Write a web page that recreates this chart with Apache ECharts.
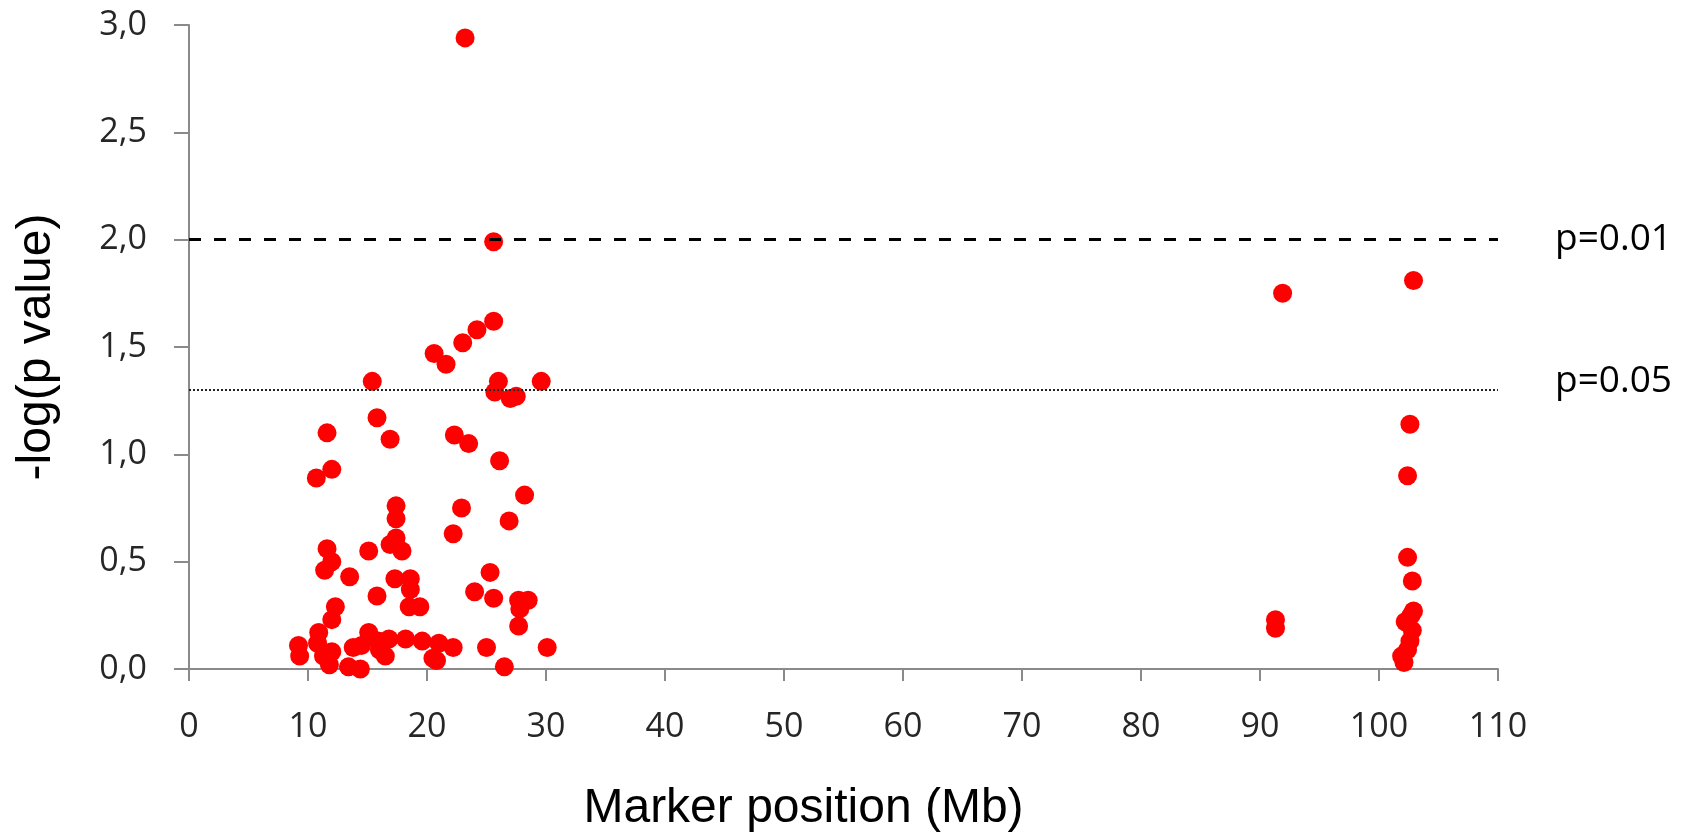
<!DOCTYPE html>
<html>
<head>
<meta charset="utf-8">
<script src="https://cdn.jsdelivr.net/npm/echarts@6/dist/echarts.min.js"></script>
<style>
html,body{margin:0;padding:0;background:#fff;}
#chart{width:1686px;height:838px;}
</style>
</head>
<body>
<div id="chart"></div>
<script>
// Marker positions (Mb)
const markerPos = [
  23.2, 25.6, 25.6, 24.2, 23.0, 20.6, 21.6, 15.4, 26.0, 29.6,
  25.7, 27.0, 27.5, 15.8, 11.6, 16.9, 22.3, 23.5, 26.1, 12.0,
  10.7, 28.2, 17.4, 22.9, 17.4, 26.9, 22.2, 17.4, 16.9, 17.9,
  15.1, 11.6, 12.0, 11.4, 13.5, 17.3, 18.6, 18.6, 25.3, 24.0,
  25.6, 15.8, 27.7, 28.5, 27.8, 18.5, 19.4, 12.3, 12.0, 27.7,
  10.9, 15.1, 15.9, 16.8, 18.2, 19.6, 21.0, 22.2, 25.0, 30.1,
  9.2, 9.3, 10.8, 11.3, 12.0, 11.8, 13.8, 14.5, 13.4, 14.4,
  16.5, 16.0, 20.5, 20.8, 26.5,
  91.9, 102.9, 102.6, 102.4, 102.4, 102.8, 91.3, 91.3, 102.9, 102.2,
  102.7, 102.8, 102.6, 102.4, 101.9, 102.1
];
// -log(p value)
const negLogP = [
  2.94, 1.99, 1.62, 1.58, 1.52, 1.47, 1.42, 1.34, 1.34, 1.34,
  1.29, 1.26, 1.27, 1.17, 1.10, 1.07, 1.09, 1.05, 0.97, 0.93,
  0.89, 0.81, 0.76, 0.75, 0.70, 0.69, 0.63, 0.61, 0.58, 0.55,
  0.55, 0.56, 0.50, 0.46, 0.43, 0.42, 0.42, 0.37, 0.45, 0.36,
  0.33, 0.34, 0.32, 0.32, 0.28, 0.29, 0.29, 0.29, 0.23, 0.20,
  0.17, 0.17, 0.13, 0.14, 0.14, 0.13, 0.12, 0.10, 0.10, 0.10,
  0.11, 0.06, 0.12, 0.06, 0.08, 0.02, 0.10, 0.11, 0.01, 0.00,
  0.06, 0.09, 0.05, 0.04, 0.01,
  1.75, 1.81, 1.14, 0.90, 0.52, 0.41, 0.23, 0.19, 0.27, 0.22,
  0.25, 0.18, 0.13, 0.09, 0.06, 0.03
];
// significance thresholds
const thresholdValues = [2.0, 1.301];
const thresholdLabels = ['p=0.01', 'p=0.05'];

const points = markerPos.map((x, i) => [x, negLogP[i]]);

const chart = echarts.init(document.getElementById('chart'), null, {renderer: 'canvas'});
const axisGray = '#8a8a8a';
chart.setOption({
  animation: false,
  backgroundColor: '#ffffff',
  grid: {left: 189, right: 188, top: 25, bottom: 166, containLabel: false},
  xAxis: {
    type: 'value', min: 0, max: 110, interval: 10,
    name: 'Marker position (Mb)',
    nameLocation: 'middle', nameGap: 116,
    nameTextStyle: {fontFamily: 'Liberation Sans', fontSize: 48, color: '#000', padding: [0, 80, 0, 0]},
    axisLine: {show: true, lineStyle: {color: axisGray, width: 2}},
    axisTick: {show: true, length: 12, lineStyle: {color: axisGray, width: 2}},
    axisLabel: {fontFamily: 'Open Sans', fontSize: 34, color: '#262626', margin: 41},
    splitLine: {show: false}
  },
  yAxis: {
    type: 'value', min: 0, max: 3, interval: 0.5,
    name: '-log(p value)',
    nameLocation: 'middle', nameGap: 128, nameRotate: 90,
    nameTextStyle: {fontFamily: 'Liberation Sans', fontSize: 48, color: '#000'},
    axisLine: {show: true, lineStyle: {color: axisGray, width: 2}},
    axisTick: {show: true, length: 15, lineStyle: {color: axisGray, width: 2}},
    axisLabel: {fontFamily: 'Open Sans', fontSize: 34, color: '#262626', margin: 42,
      formatter: v => v.toFixed(1).replace('.', ',')},
    splitLine: {show: false}
  },
  series: [{
    type: 'scatter',
    data: points,
    symbol: 'circle',
    symbolSize: 19,
    itemStyle: {color: '#ff0000', opacity: 1},
    markLine: {
      silent: true,
      symbol: ['none', 'none'],
      animation: false,
      data: [
        {yAxis: thresholdValues[0],
         lineStyle: {color: '#000', width: 3, type: [12, 13]},
         label: {show: true, position: 'end', formatter: thresholdLabels[0], distance: 57,
           fontFamily: 'Open Sans', fontSize: 37, color: '#000'}},
        {yAxis: thresholdValues[1],
         lineStyle: {color: '#222', width: 2, type: [2, 2]},
         label: {show: true, position: 'end', formatter: thresholdLabels[1], distance: 57,
           offset: [0, -8],
           fontFamily: 'Open Sans', fontSize: 37, color: '#000'}}
      ]
    }
  }]
});
</script>
</body>
</html>
